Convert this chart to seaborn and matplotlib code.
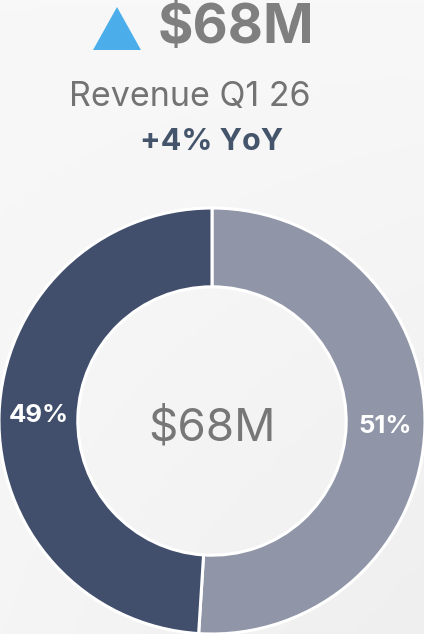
import matplotlib
matplotlib.use("Agg")
import matplotlib.pyplot as plt
import seaborn as sns
import numpy as np
from matplotlib.patches import Polygon

segments = ["Segment B", "Segment A"]
shares = [51, 49]
seg_colors = ["#9096A8", "#414F6D"]
total_label = "$68M"
headline = "$68M"
subtitle = "Revenue Q1 26"
growth = "+4% YoY"

sns.set_theme(style="white")
plt.rcParams['font.family'] = ['Inter', 'DejaVu Sans']

W, H = 424, 634
fig = plt.figure(figsize=(W / 100, H / 100), dpi=100)
fig.patch.set_facecolor("#f4f4f4")

# subtle background gradient
bg = fig.add_axes([0, 0, 1, 1])
yy, xx = np.mgrid[0:1:200j, 0:1:140j]
grad = 0.6 * (1 - yy) + 0.4 * (1 - xx) * yy
bg.imshow(grad, cmap=matplotlib.colors.LinearSegmentedColormap.from_list("g", ["#efefef", "#f8f8f8"]),
          extent=[0, 1, 0, 1], aspect="auto", origin="upper")
bg.set_axis_off()

# donut
cx, cy, r = 212, 421, 213
ax = fig.add_axes([(cx - r) / W, (H - cy - r) / H, 2 * r / W, 2 * r / H])
ax.set_facecolor("none")
wedges, texts = ax.pie(
    shares, colors=seg_colors, startangle=90, counterclock=False,
    radius=1.0,
    wedgeprops=dict(width=0.37, edgecolor="white", linewidth=2.2),
    labels=[f"{v}%" for v in shares], labeldistance=0.815,
    textprops=dict(color="white", fontsize=18.5, fontweight="bold"),
)
for t in texts:
    t.set_ha("center")
    t.set_va("center")
ax.set_xlim(-1.0, 1.0)
ax.set_ylim(-1.0, 1.0)
ax.set_aspect("equal")
ax.text(0, -0.035, total_label, ha="center", va="center", fontsize=33, color="#777777")

# headline
tri = Polygon([[93 / W, 1 - 50 / H], [141 / W, 1 - 50 / H], [117 / W, 1 - 7 / H]],
              closed=True, transform=fig.transFigure, facecolor="#4BAEEA", edgecolor="none")
fig.patches.append(tri)
fig.text(236 / W, 1 - 29 / H, headline, ha="center", va="center", fontsize=39,
         fontweight="bold", color="#7F7F7F")
fig.text(190 / W, 1 - 97 / H, subtitle, ha="center", va="center", fontsize=24.5, color="#737373")
fig.text(212 / W, 1 - 142 / H, growth, ha="center", va="center", fontsize=22,
         fontweight="bold", color="#44546A")

fig.savefig("out.png", dpi=100, facecolor=fig.get_facecolor())
